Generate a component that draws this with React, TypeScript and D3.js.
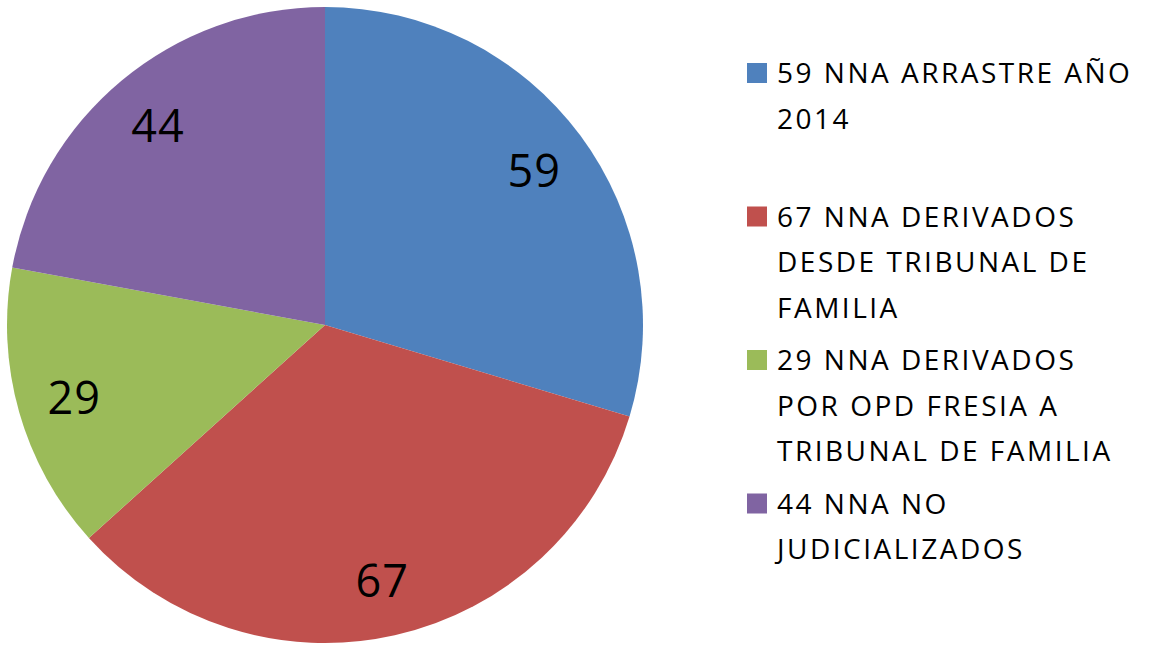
import * as d3 from 'd3';

// slice values, clockwise from 12 o'clock
const values = [59, 67, 29, 44];
const colors = ['#4F81BD', '#C0504D', '#9BBB59', '#8064A2'];
// legend text, already broken into lines as on the slide
const legendLines = [
  ['59 NNA ARRASTRE AÑO', '2014'],
  ['67 NNA DERIVADOS', 'DESDE TRIBUNAL DE', 'FAMILIA'],
  ['29 NNA DERIVADOS', 'POR OPD FRESIA A', 'TRIBUNAL DE FAMILIA'],
  ['44 NNA NO', 'JUDICIALIZADOS'],
];

const W = 1151;
const H = 646;
const FONT = '"Open Sans", Lato, sans-serif';

export default function App() {
  const cx = 325;
  const cy = 325;
  const r = 318;

  const pie = d3.pie<number>().value(d => d).sort(null);
  const arcs = pie(values);
  const arc = d3.arc<d3.PieArcDatum<number>>().innerRadius(0).outerRadius(r);
  const labelArc = d3
    .arc<d3.PieArcDatum<number>>()
    .innerRadius(r * 0.82)
    .outerRadius(r * 0.82);

  // legend layout
  const legendX = 747;
  const firstBaseline = 83;
  const entryStep = 143.5;
  const lineStep = 45.6;

  return (
    <svg
      width={W}
      height={H}
      style={{ position: 'absolute', left: 0, top: 0, background: '#fff' }}
    >
      <g transform={`translate(${cx},${cy})`}>
        {arcs.map((a, i) => (
          <path key={i} d={arc(a) || ''} fill={colors[i]} />
        ))}
        {arcs.map((a, i) => {
          const [x, y] = labelArc.centroid(a);
          return (
            <text
              key={'l' + i}
              x={x}
              y={y}
              textAnchor="middle"
              dominantBaseline="central"
              fontFamily={FONT}
              fontSize={45}
              letterSpacing={1}
              fill="#000"
            >
              {a.data}
            </text>
          );
        })}
      </g>
      <g>
        {legendLines.map((lines, i) => {
          const base = firstBaseline + i * entryStep;
          return (
            <g key={i}>
              <rect x={legendX} y={base - 20} width={20} height={20} fill={colors[i]} />
              {lines.map((t, j) => (
                <text
                  key={j}
                  x={legendX + 30}
                  y={base + j * lineStep}
                  fontFamily={FONT}
                  fontSize={28}
                  letterSpacing={2.5}
                  fill="#000"
                >
                  {t}
                </text>
              ))}
            </g>
          );
        })}
      </g>
    </svg>
  );
}
